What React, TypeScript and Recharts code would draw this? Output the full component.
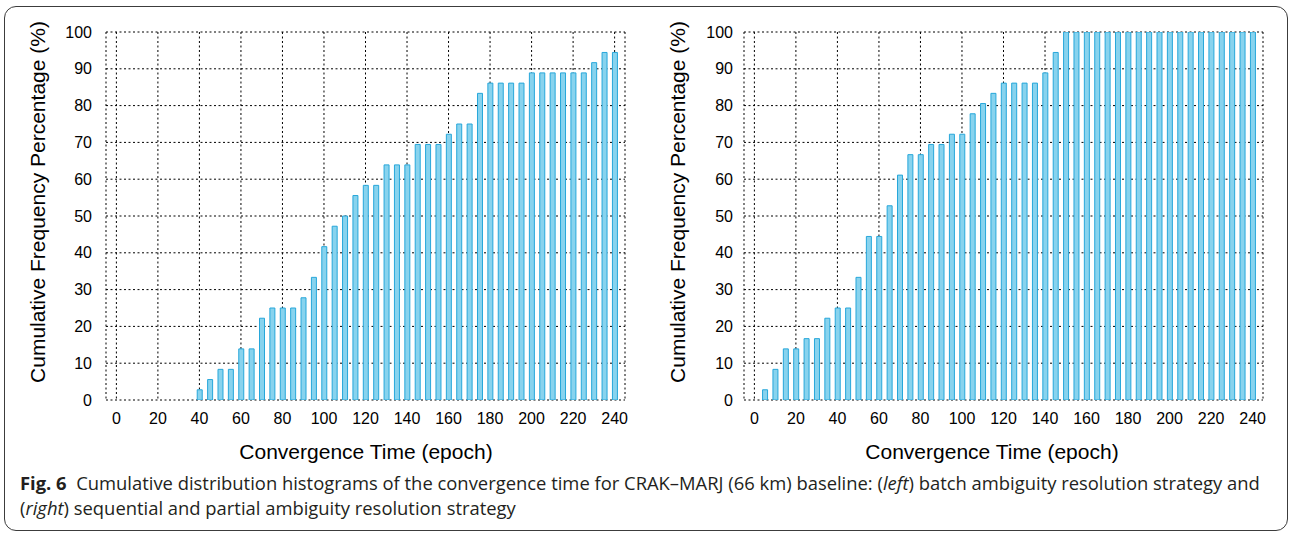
import { Bar, BarChart, CartesianGrid, XAxis, YAxis } from "recharts";

// convergence epochs (x) and cumulative frequency (%) per histogram
const xTicks = [0, 20, 40, 60, 80, 100, 120, 140, 160, 180, 200, 220, 240];
const yTicks = [0, 10, 20, 30, 40, 50, 60, 70, 80, 90, 100];

const leftEpochs = [
	40, 45, 50, 55, 60, 65, 70, 75, 80, 85, 90, 95, 100, 105, 110, 115, 120, 125,
	130, 135, 140, 145, 150, 155, 160, 165, 170, 175, 180, 185, 190, 195, 200,
	205, 210, 215, 220, 225, 230, 235, 240,
];
const leftFreq = [
	2.78, 5.56, 8.33, 8.33, 13.89, 13.89, 22.22, 25, 25, 25, 27.78, 33.33, 41.67,
	47.22, 50, 55.56, 58.33, 58.33, 63.89, 63.89, 63.89, 69.44, 69.44, 69.44,
	72.22, 75, 75, 83.33, 86.11, 86.11, 86.11, 86.11, 88.89, 88.89, 88.89, 88.89,
	88.89, 88.89, 91.67, 94.44, 94.44,
];

const rightEpochs = [
	5, 10, 15, 20, 25, 30, 35, 40, 45, 50, 55, 60, 65, 70, 75, 80, 85, 90, 95,
	100, 105, 110, 115, 120, 125, 130, 135, 140, 145, 150, 155, 160, 165, 170,
	175, 180, 185, 190, 195, 200, 205, 210, 215, 220, 225, 230, 235, 240,
];
const rightFreq = [
	2.78, 8.33, 13.89, 13.89, 16.67, 16.67, 22.22, 25, 25, 33.33, 44.44, 44.44,
	52.78, 61.11, 66.67, 66.67, 69.44, 69.44, 72.22, 72.22, 77.78, 80.56, 83.33,
	86.11, 86.11, 86.11, 86.11, 88.89, 94.44, 100, 100, 100, 100, 100, 100, 100,
	100, 100, 100, 100, 100, 100, 100, 100, 100, 100, 100, 100,
];

const yTitle = "Cumulative Frequency Percentage (%)";
const xTitle = "Convergence Time (epoch)";

const FONT = "'Liberation Sans', Arial, Helvetica, sans-serif";
const CAPTION_FONT = "'Open Sans', 'Noto Sans', sans-serif";
const BAR_FILL = "#88d3ee";
const BAR_EDGE = "#27a7da";
const FRAME = { stroke: "#000", strokeWidth: 1.3 };

const toRows = (epochs: number[], values: number[]) =>
	epochs.map((epoch, i) => ({ epoch, freq: values[i] }));

interface PanelProps {
	rows: { epoch: number; freq: number }[];
	left: number;
	width: number;
	marginLeft: number;
	marginRight: number;
	tickGap: number;
}

function HistogramPanel({
	rows,
	left,
	width,
	marginLeft,
	marginRight,
	tickGap,
}: PanelProps) {
	const xCommon = {
		dataKey: "epoch",
		type: "number" as const,
		domain: [-5, 245],
		ticks: xTicks,
		interval: 0 as const,
		allowDataOverflow: true,
	};
	const yCommon = {
		dataKey: "freq",
		type: "number" as const,
		domain: [0, 100],
		ticks: yTicks,
		interval: 0 as const,
		allowDataOverflow: true,
	};
	return (
		<div style={{ position: "absolute", left, top: 0 }}>
			<BarChart
				width={width}
				height={470}
				data={rows}
				margin={{ top: 32, right: marginRight, bottom: 0, left: marginLeft }}
			>
				<CartesianGrid
					xAxisId="main"
					yAxisId="main"
					stroke="#000"
					strokeDasharray="2 2.5"
				/>
				<Bar
					xAxisId="main"
					yAxisId="main"
					dataKey="freq"
					barSize={5}
					fill={BAR_FILL}
					stroke={BAR_EDGE}
					strokeWidth={1}
					isAnimationActive={false}
				/>
				<XAxis
					{...xCommon}
					xAxisId="main"
					height={70}
					axisLine={false}
					tickLine={false}
					tickSize={0}
					tickMargin={13}
					tick={{ fill: "#000", fontSize: 16, fontFamily: FONT }}
				/>
				<XAxis
					{...xCommon}
					xAxisId="bottomIn"
					mirror
					height={0}
					tick={false}
					tickSize={5}
					axisLine={FRAME}
					tickLine={{ stroke: "#000" }}
				/>
				<XAxis
					{...xCommon}
					xAxisId="topIn"
					orientation="top"
					mirror
					height={0}
					tick={false}
					tickSize={5}
					axisLine={FRAME}
					tickLine={{ stroke: "#000" }}
				/>
				<YAxis
					{...yCommon}
					yAxisId="main"
					width={60}
					axisLine={false}
					tickLine={false}
					tickSize={0}
					tickMargin={tickGap}
					tick={{ fill: "#000", fontSize: 16, fontFamily: FONT }}
				/>
				<YAxis
					{...yCommon}
					yAxisId="leftIn"
					mirror
					width={0}
					tick={false}
					tickSize={5}
					axisLine={FRAME}
					tickLine={{ stroke: "#000" }}
				/>
				<YAxis
					{...yCommon}
					yAxisId="rightIn"
					orientation="right"
					mirror
					width={0}
					tick={false}
					tickSize={5}
					axisLine={FRAME}
					tickLine={{ stroke: "#000" }}
				/>
			</BarChart>
		</div>
	);
}

const titleStyle = {
	position: "absolute" as const,
	fontFamily: FONT,
	fontSize: 21,
	color: "#000",
	whiteSpace: "nowrap" as const,
	textAlign: "center" as const,
	width: 400,
	height: 24,
	lineHeight: "24px",
};

function YTitle({ cx, cy }: { cx: number; cy: number }) {
	return (
		<div
			style={{
				...titleStyle,
				left: cx - 200,
				top: cy - 12,
				transform: "rotate(-90deg)",
			}}
		>
			{yTitle}
		</div>
	);
}

function XTitle({ cx, cy }: { cx: number; cy: number }) {
	return (
		<div style={{ ...titleStyle, left: cx - 200, top: cy - 12 }}>{xTitle}</div>
	);
}

export default function App() {
	return (
		<div
			style={{
				position: "absolute",
				left: 0,
				top: 0,
				width: 1290,
				height: 533,
				background: "#fff",
				overflow: "hidden",
			}}
		>
			<div
				style={{
					position: "absolute",
					left: 4,
					top: 6,
					width: 1284,
					height: 525,
					border: "1.3px solid #3c3c3c",
					borderRadius: 12,
					boxSizing: "border-box",
				}}
			/>
			<HistogramPanel
				rows={toRows(leftEpochs, leftFreq)}
				left={0}
				width={640}
				marginLeft={46}
				marginRight={15}
				tickGap={14}
			/>
			<HistogramPanel
				rows={toRows(rightEpochs, rightFreq)}
				left={640}
				width={650}
				marginLeft={44}
				marginRight={27}
				tickGap={11}
			/>
			<YTitle cx={37.5} cy={201.5} />
			<YTitle cx={678} cy={201.5} />
			<XTitle cx={366} cy={452} />
			<XTitle cx={992} cy={452} />
			<div
				style={{
					position: "absolute",
					left: 20,
					top: 470,
					fontFamily: CAPTION_FONT,
					fontSize: 18.4,
					lineHeight: "25px",
					color: "#231f20",
					whiteSpace: "nowrap",
				}}
			>
				<div>
					<b>Fig. 6</b>
					{"\u00a0 Cumulative distribution histograms of the convergence time for CRAK–MARJ (66 km) baseline: ("}
					<i>left</i>
					{") batch ambiguity resolution strategy and"}
				</div>
				<div>
					{"("}
					<i>right</i>
					{") sequential and partial ambiguity resolution strategy"}
				</div>
			</div>
		</div>
	);
}
